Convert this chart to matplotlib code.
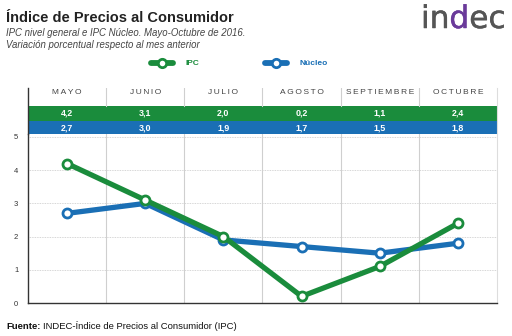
import matplotlib
matplotlib.use("Agg")
import matplotlib.pyplot as plt
from matplotlib.patches import Rectangle
import matplotlib.patheffects as pe

months = ["MAYO", "JUNIO", "JULIO", "AGOSTO", "SEPTIEMBRE", "OCTUBRE"]
ipc = [4.2, 3.1, 2.0, 0.2, 1.1, 2.4]
nucleo = [2.7, 3.0, 1.9, 1.7, 1.5, 1.8]
yticks = [0, 1, 2, 3, 4, 5]

GREEN = "#1a8c3c"
BLUE = "#1a6fb5"
W, H = 512, 336
FONT = "Liberation Sans"

fig = plt.figure(figsize=(W/100, H/100), dpi=100)
fig.patch.set_facecolor("white")

def fx(x): return x / W
def fy(y): return 1 - y / H

# main axes
L, R = 28, 497
TOP, BOT = 134, 303
ax = fig.add_axes([fx(L), fy(BOT), (R-L)/W, (BOT-TOP)/H])
x = list(range(len(months)))
ax.set_xlim(-0.5, len(months)-0.5)
ax.set_ylim(0, 5.09)
for v in [1, 2, 3, 4, 5]:
    ax.axhline(v, color="#c8c8c8", lw=0.6, ls=(0, (1, 1)), zorder=1)
for b in range(1, len(months)):
    ax.axvline(b-0.5, color="#cfcfcf", lw=0.8, zorder=1)
ax.plot(x, nucleo, color=BLUE, lw=3.8, marker="o", ms=6.5, mfc="white",
        mec=BLUE, mew=2.0, zorder=3, solid_capstyle="round")
ax.plot(x, ipc, color=GREEN, lw=3.8, marker="o", ms=6.5, mfc="white",
        mec=GREEN, mew=2.0, zorder=4, solid_capstyle="round")
ax.set_yticks(yticks)
ax.set_yticklabels([str(t) for t in yticks], fontsize=5.5, color="#333333", family=FONT)
ax.tick_params(axis="y", length=0, pad=7)
ax.set_xticks([])
ax.spines["top"].set_visible(False)
ax.spines["right"].set_color("#dddddd")
ax.spines["left"].set_color("#333333")
ax.spines["bottom"].set_color("#333333")
ax.spines["left"].set_linewidth(1.0)
ax.spines["bottom"].set_linewidth(1.0)

# header axes
HT = 88
hx = fig.add_axes([fx(L), fy(TOP), (R-L)/W, (TOP-HT)/H])
hx.set_xlim(-0.5, len(months)-0.5)
hx.set_ylim(TOP, HT)
hx.axis("off")
hx.plot([-0.5, -0.5], [HT, TOP], color="#333333", lw=1.0, clip_on=False)
hx.plot([len(months)-0.5]*2, [HT, TOP], color="#dddddd", lw=0.8, clip_on=False)
for b in range(1, len(months)):
    hx.plot([b-0.5, b-0.5], [HT, 106], color="#cfcfcf", lw=0.8)
hx.add_patch(Rectangle((-0.5, 105.5), len(months), 15, color=GREEN, lw=0))
hx.add_patch(Rectangle((-0.5, 121.3), len(months), 12.4, color=BLUE, lw=0))
for i, m in enumerate(months):
    hx.text(i, 92, "\u2009".join(m), ha="center", va="center", fontsize=6.0,
            color="#444444", family=FONT)
    hx.text(i, 113.3, f"{ipc[i]:.1f}".replace(".", ","), ha="center", va="center",
            fontsize=6.4, color="white", fontweight="bold", family=FONT)
    hx.text(i, 127.6, f"{nucleo[i]:.1f}".replace(".", ","), ha="center", va="center",
            fontsize=6.4, color="white", fontweight="bold", family=FONT)

# titles
fig.text(fx(6), fy(18), "Índice de Precios al Consumidor", fontsize=10.5,
         fontweight="bold", color="#222222", family=FONT, va="center")
fig.text(fx(6), fy(33), "IPC nivel general e IPC Núcleo. Mayo-Octubre de 2016.",
         fontsize=6.9, style="italic", color="#444444", family=FONT, va="center")
fig.text(fx(6), fy(45), "Variación porcentual respecto al mes anterior",
         fontsize=6.9, style="italic", color="#444444", family=FONT, va="center")

# legend
la = fig.add_axes([0, 0, 1, 1], facecolor="none")
la.set_xlim(0, W); la.set_ylim(H, 0); la.axis("off")
for cx, col, lab in [(162, GREEN, "IPC"), (276, BLUE, "Núcleo")]:
    la.plot([cx-11, cx+11], [63, 63], color=col, lw=4.2, solid_capstyle="round")
    la.plot([cx], [63], marker="o", ms=6, mfc="white", mec=col, mew=2.0)
    la.text(cx+23, 63.5, lab, fontsize=6.0, fontweight="bold", color=col,
            family=FONT, va="center")

# footer
t1 = fig.text(fx(6), fy(329), "Fuente:", fontsize=6.8, fontweight="bold",
              color="#111111", family=FONT, va="baseline")
fig.canvas.draw()
bb = t1.get_window_extent()
fig.text(bb.x1 / W + fx(3), fy(329), "INDEC-Índice de Precios al Consumidor (IPC)",
         fontsize=6.8, color="#111111", family=FONT, va="baseline")

# logo
r = fig.canvas.get_renderer()
lx = 421
parts = [("in", "#555555"), ("d", "#6a3a9a"), ("ec", "#555555")]
for txt, col in parts:
    t = fig.text(fx(lx), fy(28), txt, fontsize=22.5, color=col, family="DejaVu Sans",
                 va="baseline",
                 path_effects=[pe.withStroke(linewidth=0.35, foreground=col)])
    fig.canvas.draw()
    lx = t.get_window_extent(r).x1

fig.savefig("out.png", dpi=100, facecolor="white")
